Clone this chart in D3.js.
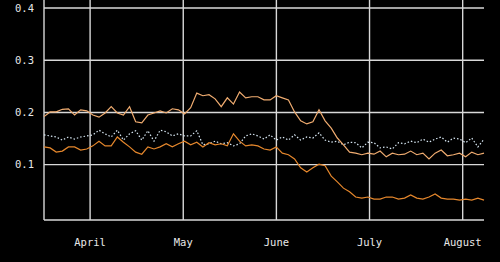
<!DOCTYPE html>
<html>
<head>
<meta charset="utf-8">
<script src="https://cdn.jsdelivr.net/npm/d3@7"></script>
<style>
  html, body { margin: 0; padding: 0; background: #000; }
  svg { display: block; }
</style>
</head>
<body>
<div id="chart"></div>
<script>
// month labels and their position on the month axis (April = 4)
const monthLabels = ["April", "May", "June", "July", "August"];
const monthTicks = [4, 5, 6, 7, 8];
const yTicks = [0.1, 0.2, 0.3, 0.4];

// first and last sample, in months
const firstMonth = 3.505;
const lastMonth = 8.229;

// light orange series (upper)
const seriesUpper = [
  0.192, 0.201, 0.201, 0.206, 0.207, 0.195, 0.205, 0.203, 0.195, 0.191,
  0.199, 0.211, 0.199, 0.195, 0.211, 0.182, 0.180, 0.195, 0.199, 0.203,
  0.199, 0.207, 0.205, 0.197, 0.209, 0.237, 0.232, 0.234, 0.226, 0.211,
  0.228, 0.216, 0.239, 0.228, 0.230, 0.230, 0.224, 0.224, 0.232, 0.228,
  0.224, 0.201, 0.184, 0.178, 0.182, 0.205, 0.184, 0.170, 0.151, 0.138,
  0.124, 0.122, 0.119, 0.122, 0.120, 0.126, 0.115, 0.122, 0.119, 0.120,
  0.126, 0.119, 0.122, 0.111, 0.122, 0.128, 0.117, 0.119, 0.122, 0.115,
  0.124, 0.119, 0.122
];

// dark orange series (lower)
const seriesLower = [
  0.134, 0.132, 0.124, 0.126, 0.134, 0.134, 0.128, 0.130, 0.136, 0.145,
  0.136, 0.136, 0.153, 0.143, 0.134, 0.124, 0.120, 0.134, 0.130, 0.134,
  0.140, 0.134, 0.140, 0.145, 0.138, 0.143, 0.134, 0.142, 0.138, 0.140,
  0.136, 0.159, 0.145, 0.136, 0.138, 0.136, 0.130, 0.128, 0.134, 0.122,
  0.119, 0.111, 0.094, 0.086, 0.094, 0.101, 0.098, 0.078, 0.067, 0.055,
  0.048, 0.038, 0.036, 0.038, 0.034, 0.034, 0.038, 0.038, 0.034, 0.036,
  0.042, 0.036, 0.034, 0.038, 0.044, 0.036, 0.034, 0.034, 0.032, 0.034,
  0.032, 0.036, 0.032
];

// dotted series
const seriesDotted = [
  0.157, 0.155, 0.153, 0.147, 0.153, 0.149, 0.153, 0.155, 0.157, 0.166,
  0.159, 0.153, 0.166, 0.147, 0.159, 0.165, 0.147, 0.165, 0.145, 0.166,
  0.163, 0.155, 0.159, 0.155, 0.155, 0.165, 0.138, 0.140, 0.145, 0.140,
  0.142, 0.136, 0.140, 0.155, 0.159, 0.155, 0.149, 0.157, 0.147, 0.153,
  0.147, 0.157, 0.147, 0.153, 0.151, 0.161, 0.147, 0.143, 0.145, 0.138,
  0.143, 0.142, 0.132, 0.143, 0.142, 0.132, 0.134, 0.130, 0.142, 0.140,
  0.145, 0.142, 0.149, 0.143, 0.149, 0.153, 0.143, 0.151, 0.149, 0.142,
  0.151, 0.134, 0.149
];

const width = 500, height = 262;
const margin = {top: 8, right: 16, bottom: 42, left: 44};

const svg = d3.select("#chart").append("svg")
    .attr("width", width)
    .attr("height", height)
    .style("background", "#000");

const x = d3.scaleLinear()
    .domain([firstMonth, lastMonth])
    .range([margin.left, width - margin.right]);

const y = d3.scaleLinear()
    .domain([-0.006, 0.4])
    .range([height - margin.bottom, margin.top]);

// sample position of each value on the month axis
const idx = d3.scaleLinear().domain([0, seriesUpper.length - 1]).range([firstMonth, lastMonth]);

const gridColor = "#d8d8d8";
const font = "'DejaVu Sans Mono', monospace";

// horizontal grid
svg.append("g")
    .selectAll("line")
    .data(yTicks)
    .join("line")
    .attr("x1", x(firstMonth))
    .attr("x2", x(lastMonth))
    .attr("y1", d => y(d))
    .attr("y2", d => y(d))
    .attr("stroke", gridColor)
    .attr("stroke-width", 1.4);

// vertical grid (extends past the top, the chart is cropped there)
svg.append("g")
    .selectAll("line")
    .data([firstMonth].concat(monthTicks))
    .join("line")
    .attr("x1", d => x(d))
    .attr("x2", d => x(d))
    .attr("y1", -5)
    .attr("y2", y.range()[0])
    .attr("stroke", gridColor)
    .attr("stroke-width", 1.4);

// bottom line
svg.append("line")
    .attr("x1", x(firstMonth))
    .attr("x2", x(lastMonth))
    .attr("y1", y.range()[0])
    .attr("y2", y.range()[0])
    .attr("stroke", gridColor)
    .attr("stroke-width", 1.4);

// y labels
svg.append("g")
    .selectAll("text")
    .data(yTicks)
    .join("text")
    .attr("x", 34)
    .attr("y", d => y(d))
    .attr("dy", "0.35em")
    .attr("text-anchor", "end")
    .attr("fill", "#e8e8e8")
    .attr("font-family", font)
    .attr("font-size", "10.5px")
    .text(d => d3.format(".1f")(d));

// month labels
svg.append("g")
    .selectAll("text")
    .data(monthTicks)
    .join("text")
    .attr("x", d => x(d))
    .attr("y", 246)
    .attr("text-anchor", "middle")
    .attr("fill", "#e8e8e8")
    .attr("font-family", font)
    .attr("font-size", "10.5px")
    .text((d, i) => monthLabels[i]);

const line = d3.line()
    .x((d, i) => x(idx(i)))
    .y(d => y(d));

svg.append("path")
    .datum(seriesDotted)
    .attr("d", line)
    .attr("fill", "none")
    .attr("stroke", "#d6e6f2")
    .attr("stroke-width", 1.2)
    .attr("stroke-dasharray", "1.5,2");

svg.append("path")
    .datum(seriesLower)
    .attr("d", line)
    .attr("fill", "none")
    .attr("stroke", "#e5872c")
    .attr("stroke-width", 1.2);

svg.append("path")
    .datum(seriesUpper)
    .attr("d", line)
    .attr("fill", "none")
    .attr("stroke", "#f0ac70")
    .attr("stroke-width", 1.2);
</script>
</body>
</html>
